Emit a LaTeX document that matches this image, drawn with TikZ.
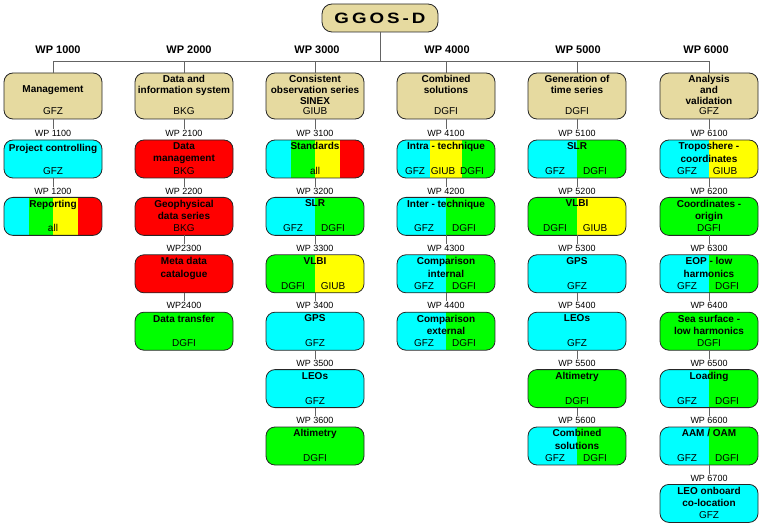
\documentclass[tikz,border=0pt]{standalone}
\usepackage{fontspec}
\usepackage{graphicx}
\setmainfont{Liberation Sans}
\newfontfamily\ggosfont[LetterSpace=16]{Liberation Sans}
\usetikzlibrary{calc}
\definecolor{hdrtan}{RGB}{230,218,160}
\definecolor{cy}{RGB}{0,255,255}
\definecolor{gr}{RGB}{0,255,0}
\definecolor{ye}{RGB}{255,255,0}
\definecolor{rd}{RGB}{255,0,0}
\definecolor{conncol}{RGB}{100,100,100}
\tikzset{
  wpbox/.style={draw=black!85, line width=0.8pt, rounded corners=9pt, minimum width=98pt, inner sep=0pt, outer sep=0pt},
  plain/.style={fill=#1},
  two/.style 2 args={path picture={
    \fill[#1, sharp corners] (path picture bounding box.south west) rectangle (path picture bounding box.north);
    \fill[#2, sharp corners] (path picture bounding box.south) rectangle (path picture bounding box.north east);}},
  three/.style n args={3}{path picture={
    \fill[#1, sharp corners] let \p1=(path picture bounding box.south west), \p2=(path picture bounding box.north east) in (\x1,\y1) rectangle ({\x1+(\x2-\x1)/3},\y2);
    \fill[#2, sharp corners] let \p1=(path picture bounding box.south west), \p2=(path picture bounding box.north east) in ({\x1+(\x2-\x1)/3},\y1) rectangle ({\x1+2*(\x2-\x1)/3},\y2);
    \fill[#3, sharp corners] let \p1=(path picture bounding box.south west), \p2=(path picture bounding box.north east) in ({\x1+2*(\x2-\x1)/3},\y1) rectangle (\x2,\y2);}},
  four/.style n args={4}{path picture={
    \fill[#1, sharp corners] let \p1=(path picture bounding box.south west), \p2=(path picture bounding box.north east) in (\x1,\y1) rectangle ({\x1+(\x2-\x1)/4},\y2);
    \fill[#2, sharp corners] let \p1=(path picture bounding box.south west), \p2=(path picture bounding box.north east) in ({\x1+(\x2-\x1)/4},\y1) rectangle ({\x1+(\x2-\x1)/2},\y2);
    \fill[#3, sharp corners] let \p1=(path picture bounding box.south west), \p2=(path picture bounding box.north east) in ({\x1+(\x2-\x1)/2},\y1) rectangle ({\x1+3*(\x2-\x1)/4},\y2);
    \fill[#4, sharp corners] let \p1=(path picture bounding box.south west), \p2=(path picture bounding box.north east) in ({\x1+3*(\x2-\x1)/4},\y1) rectangle (\x2,\y2);}},
  ttl/.style={font=\fontsize{10}{12.5}\selectfont\bfseries, align=center, inner sep=0pt, anchor=north},
  httl/.style={font=\fontsize{10}{11}\selectfont\bfseries, align=center, inner sep=0pt, anchor=north},
  org/.style={font=\fontsize{10}{12}\selectfont, inner sep=0pt, anchor=base},
  lbl/.style={font=\fontsize{9}{10}\selectfont, inner sep=1pt, anchor=base},
  wph/.style={font=\fontsize{11}{12}\selectfont\bfseries, inner sep=0pt, anchor=base},
  conn/.style={draw=conncol, line width=0.8pt},
}
% header box: name, x, title, title shift, org
\newcommand\hdrbox[5]{%
  \node[wpbox, minimum height=46pt, fill=hdrtan] (#1) at (#2,96) {};
  \node[httl] (#1-t) at ([yshift=-#4pt]#1.north) {#3};
  \node[org] (#1-o) at ([yshift=4pt]#1.south) {#5};}
% sub box: name, x, top, fill, title, title shift
\newcommand\subbox[6]{%
  \node[wpbox, minimum height=38pt, #4] (#1) at (#2,{#3+19}) {};
  \node[ttl] (#1-t) at ([yshift=-#6pt]#1.north) {#5};}
% organisation text: name, box, xshift, text
\newcommand\orgat[4]{\node[org] (#1) at ([xshift=#3pt,yshift=3.5pt]#2.south) {#4};}
% WP label + connector: name, previous box, next box, text
\newcommand\wplbl[4]{%
  \node[lbl] (#1) at ([yshift=3.3pt]#3.north) {#4};
  \draw[conn] (#2.south) -- (#1.north);}
\begin{document}
\begin{tikzpicture}[x=1pt, y=-1pt]
\useasboundingbox (0,0) rectangle (762,526);

% top node
\node[wpbox, minimum width=116pt, minimum height=28pt, fill=hdrtan, rounded corners=10pt] (ggos) at (380,18)
  {\ggosfont\fontsize{15}{15}\selectfont\bfseries\scalebox{1.25}[1]{GGOS-D}};

% WP x000 headings
\node[wph] (wp1) at (58,54) {WP 1000};
\node[wph] (wp2) at (189,54) {WP 2000};
\node[wph] (wp3) at (317,54) {WP 3000};
\node[wph] (wp4) at (447,54) {WP 4000};
\node[wph] (wp5) at (578,54) {WP 5000};
\node[wph] (wp6) at (706,54) {WP 6000};

% header boxes
\hdrbox{h1}{53}{Management}{12.4}{GFZ}
\hdrbox{h2}{184}{Data and\\information system}{2.4}{BKG}
\hdrbox{h3}{315}{Consistent\\observation series\\SINEX}{2.4}{GIUB}
\hdrbox{h4}{446}{Combined\\solutions}{2.4}{DGFI}
\hdrbox{h5}{577}{Generation of\\time series}{2.4}{DGFI}
\hdrbox{h6}{709}{Analysis\\and\\validation}{2.4}{GFZ}

% bar
\coordinate (bar) at (0,61);
\draw[conn] (ggos.south) -- (ggos.south |- bar);
\draw[conn] (h1.north) -- (h1.north |- bar) -- (h6.north |- bar) -- (h6.north);
\foreach \k in {2,...,5} {\draw[conn] (h\k.north) -- (h\k.north |- bar);}

% column 1
\subbox{b11}{53}{140}{plain=cy}{Project controlling}{4.5}
\orgat{b11-o}{b11}{0}{GFZ}
\subbox{b12}{53}{197.4}{four={cy}{gr}{ye}{rd}}{Reporting}{2.4}
\orgat{b12-o}{b12}{0}{all}
\wplbl{l11}{h1}{b11}{WP 1100}
\wplbl{l12}{b11}{b12}{WP 1200}

% column 2
\subbox{b21}{184}{140}{plain=rd}{Data\\management}{2.4}
\orgat{b21-o}{b21}{0}{BKG}
\subbox{b22}{184}{197.4}{plain=rd}{Geophysical\\data series}{2.4}
\orgat{b22-o}{b22}{0}{BKG}
\subbox{b23}{184}{254.8}{plain=rd}{Meta data\\catalogue}{2.4}
\subbox{b24}{184}{312.2}{plain=gr}{Data transfer}{2.4}
\orgat{b24-o}{b24}{0}{DGFI}
\wplbl{l21}{h2}{b21}{WP 2100}
\wplbl{l22}{b21}{b22}{WP 2200}
\wplbl{l23}{b22}{b23}{WP2300}
\wplbl{l24}{b23}{b24}{WP2400}

% column 3
\subbox{b31}{315}{140}{four={cy}{gr}{ye}{rd}}{Standards}{2.4}
\orgat{b31-o}{b31}{0}{all}
\subbox{b32}{315}{197.4}{two={cy}{gr}}{SLR}{2.4}
\orgat{b32-oa}{b32}{-22}{GFZ}
\orgat{b32-ob}{b32}{18}{DGFI}
\subbox{b33}{315}{254.8}{two={gr}{ye}}{VLBI}{2.4}
\orgat{b33-oa}{b33}{-22}{DGFI}
\orgat{b33-ob}{b33}{18}{GIUB}
\subbox{b34}{315}{312.2}{plain=cy}{GPS}{2.4}
\orgat{b34-o}{b34}{0}{GFZ}
\subbox{b35}{315}{369.6}{plain=cy}{LEOs}{2.4}
\orgat{b35-o}{b35}{0}{GFZ}
\subbox{b36}{315}{427}{plain=gr}{Altimetry}{2.4}
\orgat{b36-o}{b36}{0}{DGFI}
\wplbl{l31}{h3}{b31}{WP 3100}
\wplbl{l32}{b31}{b32}{WP 3200}
\wplbl{l33}{b32}{b33}{WP 3300}
\wplbl{l34}{b33}{b34}{WP 3400}
\wplbl{l35}{b34}{b35}{WP 3500}
\wplbl{l36}{b35}{b36}{WP 3600}

% column 4
\subbox{b41}{446}{140}{three={cy}{ye}{gr}}{Intra - technique}{2.4}
\orgat{b41-oa}{b41}{-31}{GFZ}
\orgat{b41-ob}{b41}{-3}{GIUB}
\orgat{b41-oc}{b41}{26}{DGFI}
\subbox{b42}{446}{197.4}{two={cy}{gr}}{Inter - technique}{2.4}
\orgat{b42-oa}{b42}{-22}{GFZ}
\orgat{b42-ob}{b42}{18}{DGFI}
\subbox{b43}{446}{254.8}{two={cy}{gr}}{Comparison\\internal}{2.4}
\orgat{b43-oa}{b43}{-22}{GFZ}
\orgat{b43-ob}{b43}{18}{DGFI}
\subbox{b44}{446}{312.2}{two={cy}{gr}}{Comparison\\external}{2.4}
\orgat{b44-oa}{b44}{-22}{GFZ}
\orgat{b44-ob}{b44}{18}{DGFI}
\wplbl{l41}{h4}{b41}{WP 4100}
\wplbl{l42}{b41}{b42}{WP 4200}
\wplbl{l43}{b42}{b43}{WP 4300}
\wplbl{l44}{b43}{b44}{WP 4400}

% column 5
\subbox{b51}{577}{140}{two={cy}{gr}}{SLR}{2.4}
\orgat{b51-oa}{b51}{-22}{GFZ}
\orgat{b51-ob}{b51}{18}{DGFI}
\subbox{b52}{577}{197.4}{two={gr}{ye}}{VLBI}{2.4}
\orgat{b52-oa}{b52}{-22}{DGFI}
\orgat{b52-ob}{b52}{18}{GIUB}
\subbox{b53}{577}{254.8}{plain=cy}{GPS}{2.4}
\orgat{b53-o}{b53}{0}{GFZ}
\subbox{b54}{577}{312.2}{plain=cy}{LEOs}{2.4}
\orgat{b54-o}{b54}{0}{GFZ}
\subbox{b55}{577}{369.6}{plain=gr}{Altimetry}{2.4}
\orgat{b55-o}{b55}{0}{DGFI}
\subbox{b56}{577}{427}{two={cy}{gr}}{Combined\\solutions}{2.4}
\orgat{b56-oa}{b56}{-22}{GFZ}
\orgat{b56-ob}{b56}{18}{DGFI}
\wplbl{l51}{h5}{b51}{WP 5100}
\wplbl{l52}{b51}{b52}{WP 5200}
\wplbl{l53}{b52}{b53}{WP 5300}
\wplbl{l54}{b53}{b54}{WP 5400}
\wplbl{l55}{b54}{b55}{WP 5500}
\wplbl{l56}{b55}{b56}{WP 5600}

% column 6
\subbox{b61}{709}{140}{two={cy}{ye}}{Troposhere -\\coordinates}{2.4}
\orgat{b61-oa}{b61}{-22}{GFZ}
\orgat{b61-ob}{b61}{16}{GIUB}
\subbox{b62}{709}{197.4}{plain=gr}{Coordinates -\\origin}{2.4}
\orgat{b62-o}{b62}{0}{DGFI}
\subbox{b63}{709}{254.8}{two={cy}{gr}}{EOP - low\\harmonics}{2.4}
\orgat{b63-oa}{b63}{-22}{GFZ}
\orgat{b63-ob}{b63}{18}{DGFI}
\subbox{b64}{709}{312.2}{plain=gr}{Sea surface -\\low harmonics}{2.4}
\orgat{b64-o}{b64}{0}{DGFI}
\subbox{b65}{709}{369.6}{two={cy}{gr}}{Loading}{2.4}
\orgat{b65-oa}{b65}{-22}{GFZ}
\orgat{b65-ob}{b65}{18}{DGFI}
\subbox{b66}{709}{427}{two={cy}{gr}}{AAM / OAM}{2.4}
\orgat{b66-oa}{b66}{-22}{GFZ}
\orgat{b66-ob}{b66}{18}{DGFI}
\subbox{b67}{709}{484.4}{plain=cy}{LEO onboard\\co-location}{2.4}
\orgat{b67-o}{b67}{0}{GFZ}
\wplbl{l61}{h6}{b61}{WP 6100}
\wplbl{l62}{b61}{b62}{WP 6200}
\wplbl{l63}{b62}{b63}{WP 6300}
\wplbl{l64}{b63}{b64}{WP 6400}
\wplbl{l65}{b64}{b65}{WP 6500}
\wplbl{l66}{b65}{b66}{WP 6600}
\wplbl{l67}{b66}{b67}{WP 6700}
\end{tikzpicture}
\end{document}
